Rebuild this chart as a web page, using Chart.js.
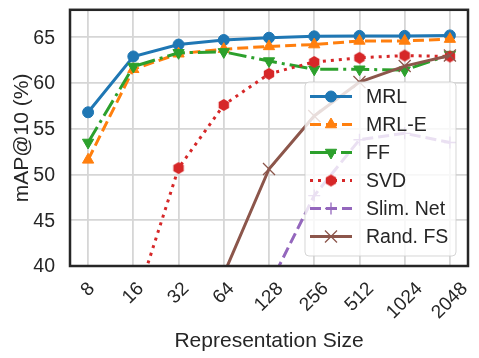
<!DOCTYPE html>
<html>
<head>
<meta charset="utf-8">
<script src="https://cdn.jsdelivr.net/npm/chart.js@4/dist/chart.umd.min.js"></script>
<style>
  html, body { margin: 0; padding: 0; background: #fff; }
  #wrap { width: 479px; height: 358px; }
</style>
</head>
<body>
<div id="wrap"><canvas id="chart" width="479" height="358"></canvas></div>
<script>
// data
const sizes = ['8', '16', '32', '64', '128', '256', '512', '1024', '2048'];
const yTicks = [40, 45, 50, 55, 60, 65];

const mrl     = [56.8, 62.9, 64.2, 64.7, 64.95, 65.1, 65.15, 65.15, 65.2];
const mrlE    = [51.6, 61.5, 63.2, 63.7, 64.0, 64.2, 64.6, 64.6, 64.8];
const ff      = [53.5, 61.8, 63.3, 63.4, 62.4, 61.5, 61.5, 61.4, 63.1];
const svd     = [null, 35.3, 50.7, 57.6, 61.0, 62.3, 62.75, 63.0, 62.9];
const slimNet = [null, null, null, null, 37.8, 47.7, 53.8, 54.5, 53.5];
const randFS  = [null, null, null, 39.1, 50.6, 56.4, 60.1, 61.85, 63.0];

const FONT = "'Liberation Sans', Arial, sans-serif";
const TXT = '#262626';

// hexagon marker (matplotlib 'h')
function hexMarker(color, r) {
    const c = document.createElement('canvas');
    const s = Math.ceil(r * 2 + 2);
    c.width = s; c.height = s;
    const g = c.getContext('2d');
    g.beginPath();
    for (let i = 0; i < 6; i++) {
        const a = Math.PI / 2 + i * Math.PI / 3;
        const px = s / 2 + r * Math.cos(a);
        const py = s / 2 - r * Math.sin(a);
        if (i === 0) g.moveTo(px, py); else g.lineTo(px, py);
    }
    g.closePath();
    g.fillStyle = color;
    g.fill();
    return c;
}

const toPts = arr => arr.map((v, i) => ({ x: i, y: v }));

const series = [
    { label: 'MRL', data: mrl, color: '#1f77b4', dash: [], style: 'circle', radius: 5.5, bw: 1 },
    { label: 'MRL-E', data: mrlE, color: '#ff7f0e', dash: [11, 5], style: 'triangle', radius: 6.5, bw: 1 },
    { label: 'FF', data: ff, color: '#2ca02c', dash: [18, 5, 3, 5], style: 'triangle', rotation: 180, radius: 6.5, bw: 1 },
    { label: 'SVD', data: svd, color: '#d62728', dash: [3, 5], style: hexMarker('#d62728', 6), radius: 6, bw: 1 },
    { label: 'Slim. Net', data: slimNet, color: '#9467bd', dash: [11, 5], style: 'cross', radius: 6, bw: 1.3 },
    { label: 'Rand. FS', data: randFS, color: '#8c564b', dash: [], style: 'crossRot', radius: 8.5, bw: 1.3 }
];

const datasets = series.map((s, i) => ({
    label: s.label,
    data: toPts(s.data),
    borderColor: s.color,
    backgroundColor: s.color,
    borderWidth: 3,
    borderDash: s.dash,
    pointStyle: s.style,
    pointRotation: s.rotation || 0,
    pointRadius: s.radius,
    pointBorderWidth: s.bw,
    pointBorderColor: s.color,
    pointBackgroundColor: s.color,
    tension: 0,
    spanGaps: false,
    order: series.length - i
}));

const textPlugin = {
    id: 'textPlugin',
    afterDraw(chart) {
        const ctx = chart.ctx;
        const a = chart.chartArea;
        const xs = chart.scales.x;
        const ys = chart.scales.y;
        ctx.save();

        // frame
        ctx.strokeStyle = TXT;
        ctx.lineWidth = 2.5;
        ctx.strokeRect(a.left, a.top, a.right - a.left, a.bottom - a.top);

        ctx.fillStyle = TXT;

        // y tick labels
        ctx.font = '19.5px ' + FONT;
        ctx.textAlign = 'right';
        ctx.textBaseline = 'middle';
        yTicks.forEach(v => ctx.fillText(String(v), a.left - 15, ys.getPixelForValue(v) + 1));

        // x tick labels, rotated 45 and centred like matplotlib
        ctx.font = '19px ' + FONT;
        sizes.forEach((lab, i) => {
            const w = ctx.measureText(lab).width;
            const h = 0.72 * 19;
            const cx = xs.getPixelForValue(i);
            const cy = a.bottom + 15 + (w + h) * 0.7071 / 2;
            ctx.save();
            ctx.translate(cx, cy);
            ctx.rotate(-Math.PI / 4);
            ctx.textAlign = 'center';
            ctx.textBaseline = 'middle';
            ctx.fillText(lab, 0, 0);
            ctx.restore();
        });

        // axis titles
        ctx.font = '21px ' + FONT;
        ctx.textAlign = 'center';
        ctx.textBaseline = 'alphabetic';
        ctx.fillText('Representation Size', (a.left + a.right) / 2, 347);
        ctx.save();
        ctx.translate(28, (a.top + a.bottom) / 2);
        ctx.rotate(-Math.PI / 2);
        ctx.fillText('mAP@10 (%)', 0, 0);
        ctx.restore();

        // legend
        const lx = 305, ly = 82, lw = 151, lh = 174;
        ctx.beginPath();
        ctx.roundRect(lx, ly, lw, lh, 4);
        ctx.fillStyle = 'rgba(255,255,255,0.8)';
        ctx.fill();
        ctx.strokeStyle = 'rgba(204,204,204,0.8)';
        ctx.lineWidth = 1;
        ctx.stroke();

        series.forEach((s, i) => {
            const y = 96.5 + i * 28;
            ctx.strokeStyle = s.color;
            ctx.fillStyle = s.color;
            ctx.lineWidth = 3;
            ctx.setLineDash(s.dash);
            ctx.beginPath();
            ctx.moveTo(310, y);
            ctx.lineTo(352, y);
            ctx.stroke();
            ctx.setLineDash([]);
            ctx.lineWidth = s.bw;
            Chart.helpers.drawPoint(ctx, {
                pointStyle: s.style,
                rotation: s.rotation || 0,
                radius: s.radius,
                borderWidth: s.bw
            }, 331, y);
            ctx.fillStyle = TXT;
            ctx.font = '19.5px ' + FONT;
            ctx.textAlign = 'left';
            ctx.textBaseline = 'middle';
            ctx.fillText(s.label, 366, y + 1);
        });

        ctx.restore();
    }
};

new Chart(document.getElementById('chart'), {
    type: 'line',
    data: { datasets },
    options: {
        responsive: false,
        animation: false,
        devicePixelRatio: 1,
        layout: { padding: { left: 70, right: 11, top: 8, bottom: 92 } },
        plugins: {
            legend: { display: false },
            tooltip: { enabled: false }
        },
        scales: {
            x: {
                type: 'linear',
                min: -0.4,
                max: 8.4,
                afterBuildTicks: scale => { scale.ticks = sizes.map((s, i) => ({ value: i })); },
                ticks: { display: false },
                border: { display: false },
                grid: { color: '#d6d6d6', lineWidth: 1.8, drawTicks: false }
            },
            y: {
                min: 40,
                max: 68,
                afterBuildTicks: scale => { scale.ticks = yTicks.map(v => ({ value: v })); },
                ticks: { display: false },
                border: { display: false },
                grid: { color: '#d6d6d6', lineWidth: 1.8, drawTicks: false }
            }
        }
    },
    plugins: [textPlugin]
});
</script>
</body>
</html>
